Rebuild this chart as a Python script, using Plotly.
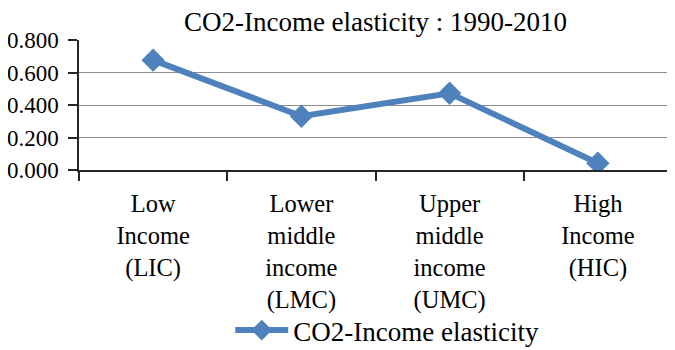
import plotly.graph_objects as go

categories = ["Low<br>Income<br>(LIC)", "Lower<br>middle<br>income<br>(LMC)",
              "Upper<br>middle<br>income<br>(UMC)", "High<br>Income<br>(HIC)"]
elasticity = [0.676, 0.331, 0.472, 0.042]
series_name = "CO2-Income elasticity"
title_text = "CO2-Income elasticity : 1990-2010"

FONT = "Liberation Serif"
BLUE = "#4F81BD"
AXIS = "#262626"

fig = go.Figure()
fig.add_trace(go.Scatter(
    x=categories, y=elasticity, name=series_name, mode="lines+markers",
    line=dict(color=BLUE, width=6),
    marker=dict(symbol="diamond", size=18, color=BLUE),
))

fig.update_layout(
    template="none",
    width=675, height=350,
    margin=dict(l=71, r=11, t=32, b=188, autoexpand=False),
    paper_bgcolor="white", plot_bgcolor="white",
    font=dict(family=FONT, size=24, color="black"),
    title=dict(text=title_text, x=0.5, xref="paper", xanchor="center",
               yref="container", y=0.962, yanchor="middle",
               font=dict(family=FONT, size=27, color="black")),
    showlegend=True,
    legend=dict(orientation="h", x=0.255, xanchor="left", y=-1.235, yanchor="middle",
                itemwidth=53, font=dict(family=FONT, size=27, color="black"),
                bgcolor="rgba(0,0,0,0)"),
    xaxis=dict(type="category", range=[-0.5, 3.5], tickson="boundaries",
               ticks="outside", ticklen=9, tickwidth=1.5, tickcolor=AXIS,
               showline=True, linecolor=AXIS, linewidth=1.5,
               showgrid=False, tickangle=0, ticklabelstandoff=11,
               tickfont=dict(family=FONT, size=24.5, color="black")),
    yaxis=dict(range=[0, 0.8], dtick=0.2, tickformat=".3f",
               ticks="outside", ticklen=9, tickwidth=1.5, tickcolor=AXIS,
               showline=True, linecolor=AXIS, linewidth=1.5,
               showgrid=True, gridcolor="#8c8c8c", gridwidth=1, zeroline=False,
               ticklabelstandoff=5,
               tickfont=dict(family=FONT, size=23, color="black")),
)

fig.write_html("out.html")
